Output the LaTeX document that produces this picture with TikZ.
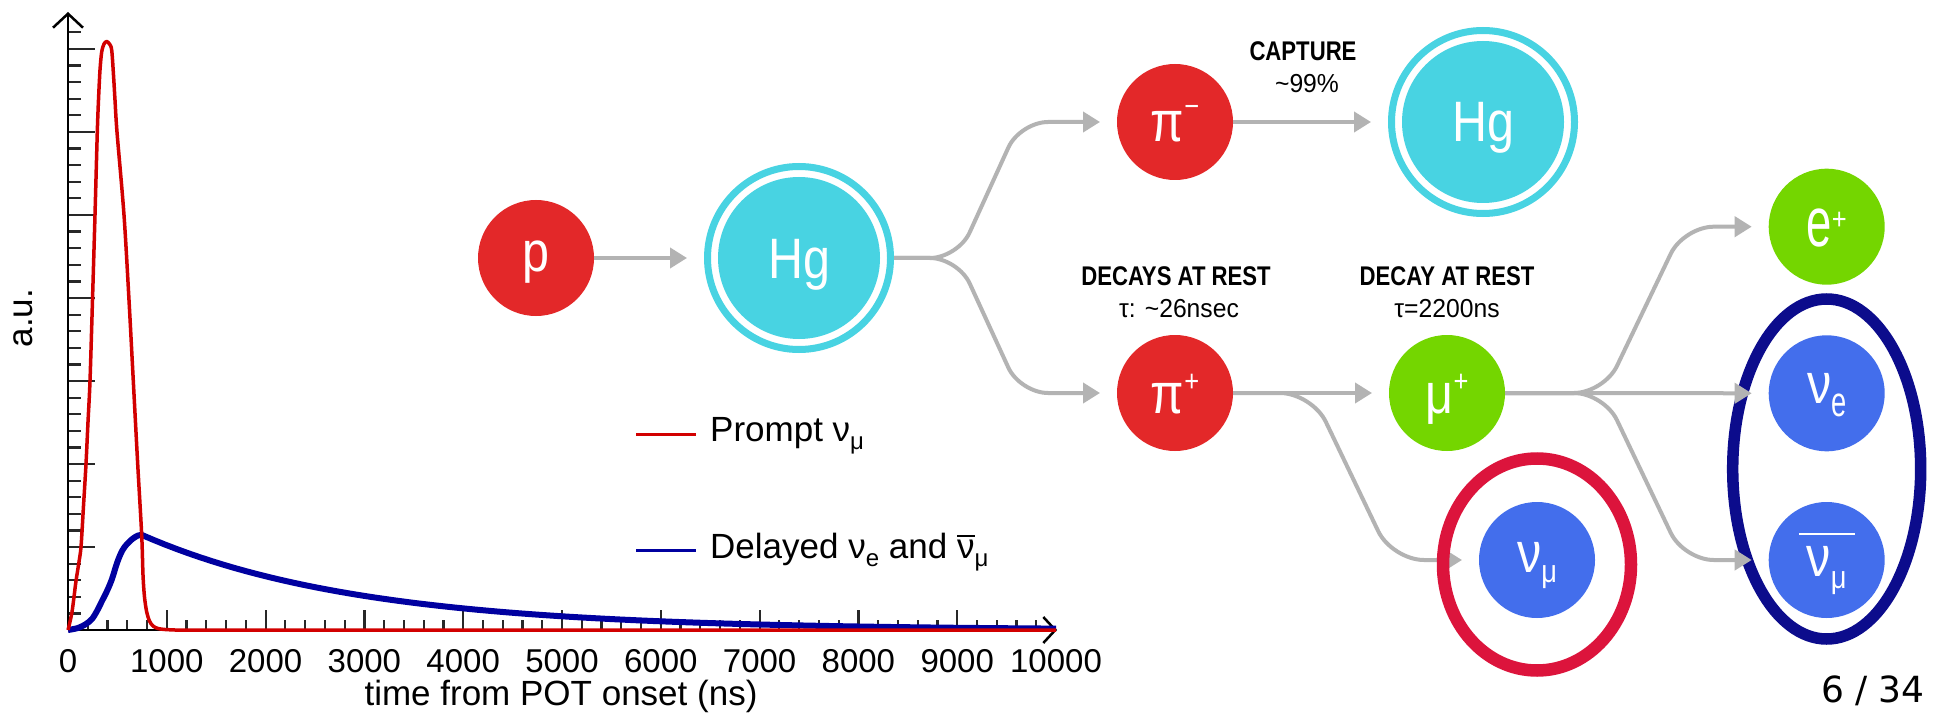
\documentclass[tikz,border=0pt]{standalone}
\usepackage{fontspec}
\setmainfont{Liberation Sans}
\newfontfamily\cfont{Liberation Sans}[FakeStretch=0.85]
\newfontfamily\efont{Liberation Sans}[FakeStretch=0.65]
\newfontfamily\lfont{Liberation Sans}[FakeStretch=0.82]
\newfontfamily\rfont{Liberation Sans}[FakeStretch=0.95]
\newfontfamily\pgfont{DejaVu Sans}
\usetikzlibrary{arrows.meta}

\definecolor{pred}{RGB}{227,40,41}
\definecolor{pcyan}{RGB}{72,211,226}
\definecolor{pgreen}{RGB}{116,214,0}
\definecolor{pblue}{RGB}{67,110,236}
\definecolor{ringred}{RGB}{220,20,60}
\definecolor{ringnavy}{RGB}{12,12,140}
\definecolor{arrgray}{RGB}{179,179,179}
\definecolor{plotred}{RGB}{210,0,0}
\definecolor{plotblue}{RGB}{0,0,160}
\definecolor{axisgray}{RGB}{40,40,40}

\newcommand\fsz[1]{\fontsize{#1pt}{#1pt}\selectfont}
\newcommand\supx[2][22pt]{\raisebox{#1}{\fsz{30}#2}}
\newcommand\subx[2][-10pt]{\raisebox{#1}{\fsz{32}#2}}
% #1 rule thickness, #2 gap, #3 extra overhang each side, #4 content
\newcommand\barred[4]{\vbox{\hrule height #1\vskip #2\hbox{\kern#3#4\kern#3}}}

\tikzset{
  particle/.style={circle, minimum size=116pt, inner sep=0pt, outer sep=0pt, text=white, font=\cfont\fsz{57}},
  bl/.style={text height=#1, text depth=0pt},
  hgnode/.style={circle, draw=pcyan, line width=7pt, minimum size=183pt, inner sep=0pt, text=white, font=\cfont\fsz{57},
    path picture={\fill[pcyan] (path picture bounding box.center) circle[radius=81pt];}},
  conn/.style={draw=arrgray, line width=4pt, -{Triangle[length=17pt,width=20pt]}, shorten >=17pt},
  boldlab/.style={anchor=base, inner sep=0pt, font=\lfont\bfseries\fsz{27}},
  reglab/.style={anchor=base, inner sep=0pt, font=\rfont\fsz{26}},
  ticklab/.style={anchor=base, inner sep=0pt, font=\fsz{33}},
  leglab/.style={anchor=base west, inner sep=0pt, font=\fsz{35}},
}

\begin{document}
\begin{tikzpicture}[x=1pt,y=-1pt]
\useasboundingbox (0,0) rectangle (1936,714);
\fill[white] (0,0) rectangle (1936,714);

% ---------- plot: ticks ----------
\begin{scope}[axisgray, line width=2.2pt]
  \foreach \k in {1,...,36} \draw (68,{630-16.6*\k}) -- ++(13,0);
  \foreach \k in {1,...,7} \draw (68,{630-83*\k}) -- ++(27,0);
  \foreach \k in {1,...,49} \draw ({68+19.76*\k},630) -- ++(0,-10);
  \foreach \k in {1,...,9} \draw ({68+98.8*\k},630) -- ++(0,-20);
\end{scope}
% axes
\draw[black, line width=2.5pt, -{Straight Barb[length=14pt,width=30pt]}] (68,630) -- (68,12);
\draw[black, line width=2.5pt, -{Straight Barb[length=12pt,width=26pt]}] (68,630) -- (1057,630);

% blue delayed curve
\draw[plotblue, line width=6pt, line join=round]
  plot[smooth, tension=0.5] coordinates {(68,630) (78,628) (86,624) (92,619) (97,611) (102,601) (107,591) (112,579) (117,563) (122,551) (127,544) (133,538.5) (138,535.5) (142,535)}
  -- plot[domain=142:1056, samples=80] (\x, {630-95*exp(-(\x-142)/217)});
% red prompt curve
\draw[plotred, line width=3.5pt, line join=round]
  plot[smooth, tension=0.5] coordinates {(68,630) (69.5,624) (72,612) (74,597) (76,581) (78.5,565) (81,547) (83.5,506) (86,464) (88,422) (90,381) (92.5,300) (95,215) (97.3,132) (98.5,100) (100,70) (101.7,52) (104,44) (106.7,41.5) (109.5,44) (111.7,50) (113.5,75) (115,100) (117,132) (124,215) (129,300) (133.3,381) (137.7,464) (141.7,535) (143,575) (144.5,597) (146.7,612) (149.5,621) (153,626) (158,628.5) (165,629.5) (175,630)}
  -- (1056,630);

% tick labels and axis titles
\foreach \k/\t in {0/0,1/1000,2/2000,3/3000,4/4000,5/5000,6/6000,7/7000,8/8000,9/9000,10/10000}
  \node[ticklab] (xl\k) at ({68+98.8*\k},672) {\t};
\node[anchor=base, inner sep=0pt, font=\fsz{35}] (xtitle) at (561,705) {time from POT onset (ns)};
\node[rotate=90, anchor=base, inner sep=0pt, font=\fsz{35}] (ytitle) at (32,318) {a.u.};

% legend
\draw[plotred, line width=3pt] (636,434) -- (696,434);
\node[leglab] (leg1) at (710,441) {Prompt ν\raisebox{-8pt}{\fsz{24}μ}};
\draw[plotblue, line width=3pt] (636,550) -- (696,550);
\node[leglab] (leg2) at (710,558) {Delayed ν\raisebox{-8pt}{\fsz{24}e} and \barred{1.6pt}{2.5pt}{0pt}{ν}\raisebox{-8pt}{\fsz{24}μ}};

% ---------- diagram ----------
\draw[ringnavy, line width=11.5pt] (1826.7,469) ellipse [x radius=94pt, y radius=170pt];

\node[particle, fill=pred, bl=26pt] (p) at (536,258) {p};
\node[hgnode, bl=40pt] (hg1) at (799,258) {Hg};
\node[particle, fill=pred, bl=40pt] (pim) at (1175,122) {π\supx[25pt]{−}};
\node[particle, fill=pred, bl=40pt] (pip) at (1175,393) {π\supx{+}};
\node[hgnode, bl=40pt] (hg2) at (1483,122) {Hg};
\node[particle, fill=pgreen, bl=40pt] (mup) at (1447,393) {μ\supx{+}};
\node[particle, fill=pblue, bl=24pt] (numu) at (1537,560) {ν\subx{μ}};
\node[particle, fill=pgreen, bl=40pt] (ep) at (1826.7,226.7) {{\efont\fsz{70}e}\supx[17pt]{+}};
\node[particle, fill=pblue, bl=20pt] (nue) at (1826.7,393.3) {ν\raisebox{-13pt}{\efont\fsz{42}e}};
\node[particle, fill=pblue, bl=33pt] (nmb) at (1826.7,560) {\barred{2pt}{11pt}{8pt}{ν\subx[-12pt]{μ}}};

\node[boldlab] (capt) at (1303,61) {CAPTURE};
\node[reglab] (capp) at (1307,93) {\textasciitilde 99\%};
\node[boldlab] (dar1) at (1176,285) {DECAYS AT REST};
\node[reglab] (tau1) at (1179,317) {τ: \textasciitilde 26nsec};
\node[boldlab] (dar2) at (1447,285) {DECAY AT REST};
\node[reglab] (tau2) at (1447,317) {τ=2200ns};

\draw[conn] (p.east) -- (hg1.west);
\draw[conn, rounded corners=28pt] (hg1.east) -- ++(64,0) -- ([xshift=-97pt]pim.west) -- (pim.west);
\draw[conn, rounded corners=28pt] (hg1.east) -- ++(64,0) -- ([xshift=-97pt]pip.west) -- (pip.west);
\draw[conn] (pim.east) -- (hg2.west);
\draw[conn] (pip.east) -- (mup.west);
\draw[conn, rounded corners=32pt] (pip.east) -- ++(79,0) -- ([xshift=-87pt]numu.west) -- (numu.west);
\draw[conn, rounded corners=30pt] (mup.east) -- ++(99,0) -- ([xshift=-85pt]ep.west) -- (ep.west);
\draw[conn] (mup.east) -- (nue.west);
\draw[conn, rounded corners=30pt] (mup.east) -- ++(99,0) -- ([xshift=-85pt]nmb.west) -- (nmb.west);

\draw[ringred, line width=12.5pt] ([yshift=-4.5pt]numu.center) ellipse [x radius=94pt, y radius=106pt];

\node[anchor=base east, inner sep=0pt, font=\pgfont\fsz{36}] (pnum) at (1925,702) {6 / 34};
\end{tikzpicture}
\end{document}
